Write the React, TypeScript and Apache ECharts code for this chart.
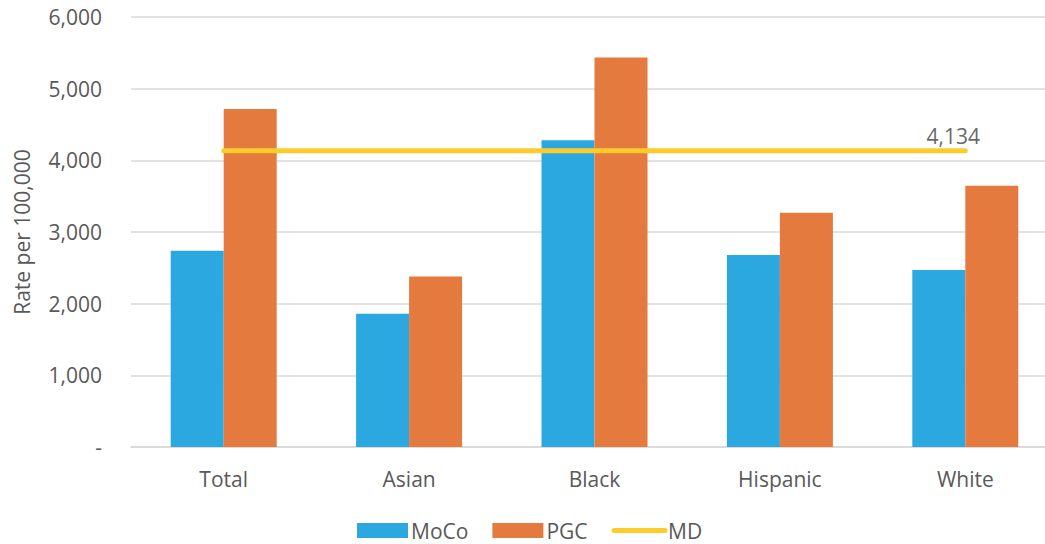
import React, { useEffect, useRef } from "react";
import * as echarts from "echarts";

const categories = ["Total", "Asian", "Black", "Hispanic", "White"];
const mocoValues = [2740, 1860, 4280, 2680, 2470];
const pgcValues = [4715, 2380, 5435, 3270, 3645];
const mdValue = 4134;
const mdValues = categories.map(() => mdValue);
const yTicks = [0, 1000, 2000, 3000, 4000, 5000, 6000];

const FONT = "'Open Sans', sans-serif";
const TEXT = "#595959";
const FS = 21;

export default function App() {
  const ref = useRef<HTMLDivElement>(null);
  useEffect(() => {
    if (!ref.current) return;
    const chart = echarts.init(ref.current, undefined, { renderer: "svg" });
    chart.setOption({
      animation: false,
      textStyle: { fontFamily: FONT },
      grid: { left: 131, right: 0, top: 17, bottom: 97, containLabel: false },
      legend: {
        top: 515,
        left: 352,
        itemWidth: 51,
        itemHeight: 15,
        itemGap: 24,
        textStyle: { fontSize: FS, color: TEXT, fontFamily: FONT, padding: [0, 0, 0, -2] },
        data: [
          { name: "MoCo", icon: "rect" },
          { name: "PGC", icon: "rect" },
          {
            name: "MD",
            itemStyle: { opacity: 0 },
            lineStyle: { width: 5, cap: "round", color: "#FDCB2A" },
          },
        ],
      },
      xAxis: {
        type: "category",
        data: categories,
        axisTick: { show: false },
        axisLine: { lineStyle: { color: "#D9D9D9", width: 1.5 } },
        axisLabel: { fontSize: FS, color: TEXT, margin: 21, fontFamily: FONT },
      },
      yAxis: {
        type: "value",
        min: yTicks[0],
        max: yTicks[yTicks.length - 1],
        interval: 1000,
        name: "Rate per 100,000",
        nameLocation: "middle",
        nameGap: 99,
        nameTextStyle: { fontSize: FS, color: TEXT, fontFamily: FONT },
        axisLine: { show: false },
        axisTick: { show: false },
        splitLine: { lineStyle: { color: "#D9D9D9", width: 1.5 } },
        axisLabel: {
          fontSize: FS,
          color: TEXT,
          margin: 29,
          fontFamily: FONT,
          formatter: (v: number) => (v === 0 ? "-" : v.toLocaleString("en-US")),
        },
      },
      series: [
        {
          name: "MoCo",
          type: "bar",
          data: mocoValues,
          barWidth: 53,
          barGap: "0%",
          itemStyle: { color: "#2CA8E0" },
        },
        {
          name: "PGC",
          type: "bar",
          data: pgcValues,
          barWidth: 53,
          barGap: "0%",
          itemStyle: { color: "#E47A3D" },
        },
        {
          name: "MD",
          type: "line",
          data: mdValues,
          symbol: "none",
          z: 5,
          lineStyle: { color: "#FDCB2A", width: 5, cap: "round" },
          itemStyle: { color: "#FDCB2A" },
          label: { show: false },
        },
        {
          name: "MDLabel",
          type: "scatter",
          data: mdValues.map((v, i) => (i === mdValues.length - 1 ? v : null)),
          symbolSize: 0,
          silent: true,
          label: {
            show: true,
            position: "top",
            offset: [-12, 1],
            fontSize: FS,
            color: "#404040",
            fontFamily: FONT,
            formatter: (p: any) => Number(p.value).toLocaleString("en-US"),
          },
        },
      ],
    });
    return () => chart.dispose();
  }, []);
  return (
    <div
      style={{
        position: "fixed",
        left: 0,
        top: 0,
        width: 1045,
        height: 544,
        overflow: "hidden",
        background: "#fff",
      }}
    >
      <div ref={ref} style={{ width: 1058, height: 544 }} />
    </div>
  );
}
